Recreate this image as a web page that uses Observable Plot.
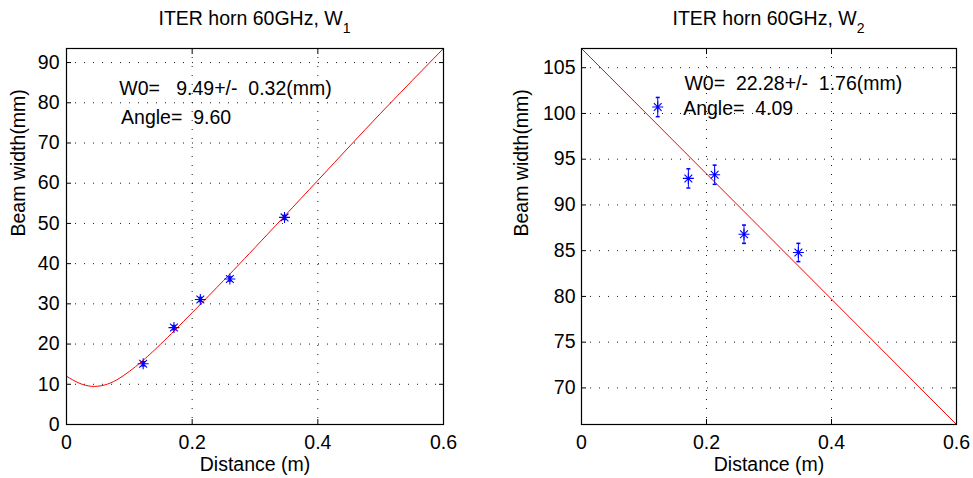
<!DOCTYPE html>
<html><head><meta charset="utf-8">
<script src="https://cdn.jsdelivr.net/npm/d3@7"></script>
<script src="https://cdn.jsdelivr.net/npm/@observablehq/plot@0.6"></script>
<style>
html,body{margin:0;padding:0;background:#fff;}
#wrap{position:relative;width:973px;height:478px;background:#fff;}
#wrap > svg{position:absolute;top:0;}
</style></head><body><div id="wrap"></div>
<script>
// ---- data ----
const xTicks = [0, 0.2, 0.4, 0.6];
const w1Ticks = [0, 10, 20, 30, 40, 50, 60, 70, 80, 90];
const w2Ticks = [70, 75, 80, 85, 90, 95, 100, 105];
const distance = [0.122, 0.171, 0.213, 0.260, 0.347];
const w1 = [15.1, 24.1, 31.1, 36.2, 51.5];
const w1Err = [0.5, 0.5, 0.5, 0.5, 0.5];
const w2 = [100.7, 92.9, 93.3, 86.8, 84.8];
const w2Err = [1.05, 1.05, 1.05, 1.0, 1.0];
const fit1Z = [0, 0.02, 0.04, 0.06, 0.08, 0.10, 0.12, 0.15, 0.20, 0.25, 0.30, 0.40, 0.50, 0.60];
const fit1W = [12.0, 10.3, 9.5, 9.8, 11.1, 13.2, 15.7, 20.0, 27.8, 35.8, 44.0, 60.7, 77.4, 93.5];
const fit2Z = [0, 0.6];
const fit2W = [107.1, 66.0];
const notes1 = [
  {x: 0.0841, y: 83.4, text: "W0=   9.49+/-  0.32(mm)"},
  {x: 0.0868, y: 76.4, text: "Angle=  9.60"}
];
const notes2 = [
  {x: 0.1647, y: 103.3, text: "W0=  22.28+/-  1.76(mm)"},
  {x: 0.1626, y: 100.5, text: "Angle=  4.09"}
];

const FONT = "'Liberation Sans', Arial, Helvetica, sans-serif";
const FS = 19.5;
const asterisk = {draw(ctx, size) {
  const r = Math.sqrt(size / Math.PI), d = r * Math.SQRT1_2;
  ctx.moveTo(-r, 0); ctx.lineTo(r, 0);
  ctx.moveTo(0, -r); ctx.lineTo(0, r);
  ctx.moveTo(-d, -d); ctx.lineTo(d, d);
  ctx.moveTo(-d, d); ctx.lineTo(d, -d);
}};
const cap = {draw(ctx, size) {
  const r = Math.sqrt(size / Math.PI);
  ctx.moveTo(-r, 0); ctx.lineTo(r, 0);
}};

function panel({yDomain, yTicks, values, errs, fitZ, fitW, notes, title, sub, marginLeft, marginRight, labelDx, tickPad}) {
  const pts = distance.map((d, i) => ({x: d, y: values[i], e: errs[i]}));
  const fit = fitZ.map((z, i) => ({x: z, y: fitW[i]}));
  const grid = {stroke: "#000", strokeOpacity: 0.9, strokeWidth: 1, strokeDasharray: "1,8"};
  const svg = Plot.plot({
    width: 486, height: 478,
    marginLeft, marginRight, marginTop: 48, marginBottom: 54,
    style: {fontFamily: FONT, fontSize: FS + "px", whiteSpace: "pre", background: "transparent", overflow: "visible", color: "#000"},
    x: {domain: [0, 0.6]},
    y: {domain: yDomain},
    marks: [
      Plot.gridX(xTicks, grid),
      Plot.gridY(yTicks, grid),
      Plot.line(fit, {x: "x", y: "y", stroke: "#ff0000", strokeWidth: 1, curve: "natural", clip: true}),
      Plot.ruleX(pts, {x: "x", y1: d => d.y - d.e, y2: d => d.y + d.e, stroke: "#0000ff", strokeWidth: 1}),
      Plot.dot(pts, {x: "x", y: d => d.y - d.e, symbol: cap, r: 2, stroke: "#0000ff", fill: "none"}),
      Plot.dot(pts, {x: "x", y: d => d.y + d.e, symbol: cap, r: 2, stroke: "#0000ff", fill: "none"}),
      Plot.dot(pts, {x: "x", y: "y", symbol: asterisk, r: 5.5, stroke: "#0000ff", strokeWidth: 1.1, fill: "none"}),
      Plot.text(notes, {x: "x", y: "y", text: "text", textAnchor: "start", lineAnchor: "middle", fill: "#000"}),
      Plot.axisX(xTicks, {tickSize: 0, tickPadding: 11, tickFormat: d => String(d), label: null}),
      Plot.axisX(xTicks, {anchor: "bottom", tickSize: -5, tickFormat: () => "", label: null}),
      Plot.axisX(xTicks, {anchor: "top", tickSize: -5, tickFormat: () => "", label: null}),
      Plot.axisY(yTicks, {tickSize: 0, tickPadding: tickPad, tickFormat: d => String(d), label: null}),
      Plot.axisY(yTicks, {anchor: "left", tickSize: -5, tickFormat: () => "", label: null}),
      Plot.axisY(yTicks, {anchor: "right", tickSize: -5, tickFormat: () => "", label: null}),
      Plot.frame({stroke: "#000", strokeWidth: 1.2}),
      Plot.text(["Distance (m)"], {frameAnchor: "bottom", dy: 40, lineAnchor: "middle", text: d => d, fill: "#000"}),
      Plot.text(["Beam width(mm)"], {frameAnchor: "left", rotate: -90, dx: labelDx, lineAnchor: "middle", text: d => d, fill: "#000"})
    ]
  });
  const cx = marginLeft + (486 - marginLeft - marginRight) / 2;
  const t = d3.select(svg).append("text")
    .attr("x", cx).attr("y", 25).attr("text-anchor", "middle")
    .attr("fill", "#000").attr("font-size", FS).attr("font-family", FONT)
    .text(title);
  t.append("tspan").attr("dy", 8).attr("font-size", 14).text(sub);
  return svg;
}

const wrap = document.getElementById("wrap");
const left = panel({yDomain: [0, 93.5], yTicks: w1Ticks, values: w1, errs: w1Err, fitZ: fit1Z, fitW: fit1W,
  notes: notes1, title: "ITER horn 60GHz, W", sub: "1", marginLeft: 66, marginRight: 43, labelDx: -48, tickPad: 7});
left.style.left = "0px";
const right = panel({yDomain: [66.0, 107.1], yTicks: w2Ticks, values: w2, errs: w2Err, fitZ: fit2Z, fitW: fit2W,
  notes: notes2, title: "ITER horn 60GHz, W", sub: "2", marginLeft: 94, marginRight: 17, labelDx: -60, tickPad: 6});
right.style.left = "487px";
wrap.appendChild(left);
wrap.appendChild(right);
</script></body></html>
